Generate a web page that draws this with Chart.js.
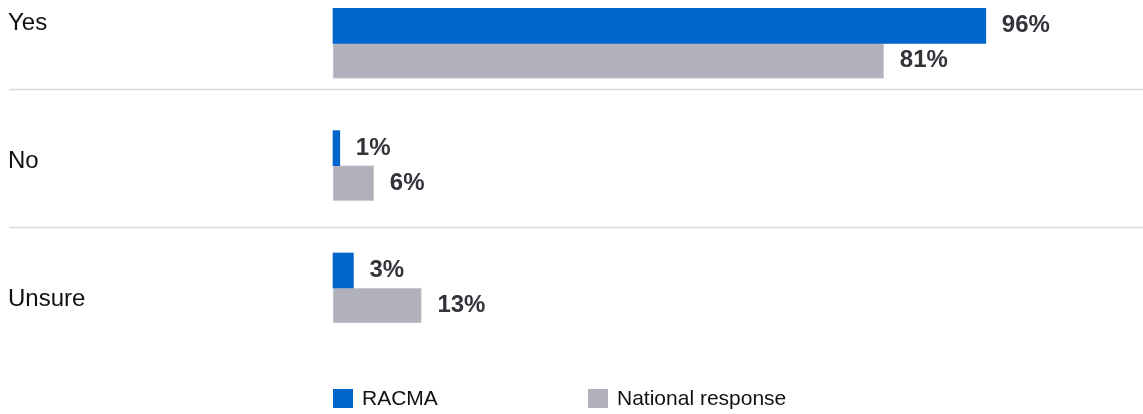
<!DOCTYPE html>
<html>
<head>
<meta charset="utf-8">
<title>Survey responses</title>
<script src="https://cdn.jsdelivr.net/npm/chart.js@4.4.1/dist/chart.umd.min.js"></script>
<style>
  html, body { margin: 0; padding: 0; background: #fff; }
  #wrap { position: relative; width: 1143px; height: 414px; }
</style>
</head>
<body>
<div id="wrap"><canvas id="surveyChart"></canvas></div>
<script>
const categories = ['Yes', 'No', 'Unsure'];
const seriesNames = ['RACMA', 'National response'];
const racmaValues = [96, 1, 3];
const nationalValues = [81, 6, 13];
const seriesColors = ['#0066cc', '#b1b1bc'];

const FONT = '"Liberation Sans", Arial, sans-serif';

// caption column: rows are a bit taller than the bar groups
const ROW_FIRST = 21.5;
const ROW_PITCH = 138;

// Row captions on the left and the thin rules between rows
const rowLabels = {
    id: 'rowLabels',
    afterDraw(chart) {
        const ctx = chart.ctx;
        ctx.save();
        ctx.strokeStyle = '#dadada';
        ctx.lineWidth = 1.5;
        for (let i = 0; i < categories.length - 1; i++) {
            const y = ROW_FIRST + (i + 0.5) * ROW_PITCH - 1;
            ctx.beginPath();
            ctx.moveTo(9, y);
            ctx.lineTo(chart.width, y);
            ctx.stroke();
        }
        ctx.font = '24px ' + FONT;
        ctx.fillStyle = '#111';
        ctx.textBaseline = 'middle';
        categories.forEach((c, i) => ctx.fillText(c, 8, ROW_FIRST + i * ROW_PITCH + 2));
        ctx.restore();
    }
};

// Percent labels just past the end of each bar
const valueLabels = {
    id: 'valueLabels',
    afterDatasetsDraw(chart) {
        const ctx = chart.ctx;
        ctx.save();
        ctx.font = 'bold 24px ' + FONT;
        ctx.fillStyle = '#33343a';
        ctx.textBaseline = 'middle';
        chart.data.datasets.forEach((ds, i) => {
            chart.getDatasetMeta(i).data.forEach((bar, j) => {
                ctx.fillText(ds.data[j] + '%', bar.x + 16, bar.y);
            });
        });
        ctx.restore();
    }
};

// Legend row under the bars, lined up with the bar origin
const legendRow = {
    id: 'legendRow',
    afterDraw(chart) {
        const ctx = chart.ctx;
        const left = chart.chartArea.left;
        const y = 398.5;
        ctx.save();
        ctx.font = '21px ' + FONT;
        ctx.textBaseline = 'middle';
        chart.data.datasets.forEach((ds, i) => {
            const x = left + i * 255;
            ctx.fillStyle = ds.backgroundColor;
            ctx.fillRect(x, y - 9.5, 20, 19);
            ctx.fillStyle = '#111';
            ctx.fillText(ds.label, x + 29, y + 1);
        });
        ctx.restore();
    }
};

const surveyCtx = document.getElementById('surveyChart').getContext('2d');
const surveyChart = new Chart(surveyCtx, {
    type: 'bar',
    data: {
        labels: categories,
        datasets: [{
            label: seriesNames[0],
            data: racmaValues,
            backgroundColor: seriesColors[0],
            borderWidth: 0
        }, {
            label: seriesNames[1],
            data: nationalValues,
            backgroundColor: seriesColors[1],
            borderColor: '#cdcdd4',
            borderWidth: 1,
            borderSkipped: false
        }]
    },
    options: {
        indexAxis: 'y',
        responsive: true,
        maintainAspectRatio: false,
        animation: false,
        layout: {
            padding: { left: 333, right: 130, top: 43.3, bottom: 126 }
        },
        datasets: {
            bar: { barThickness: 35, clip: false }
        },
        plugins: {
            legend: { display: false },
            tooltip: { enabled: false }
        },
        scales: {
            x: { display: false, min: 0, max: 100 },
            y: { display: false, offset: false }
        }
    },
    plugins: [rowLabels, valueLabels, legendRow]
});
</script>
</body>
</html>
